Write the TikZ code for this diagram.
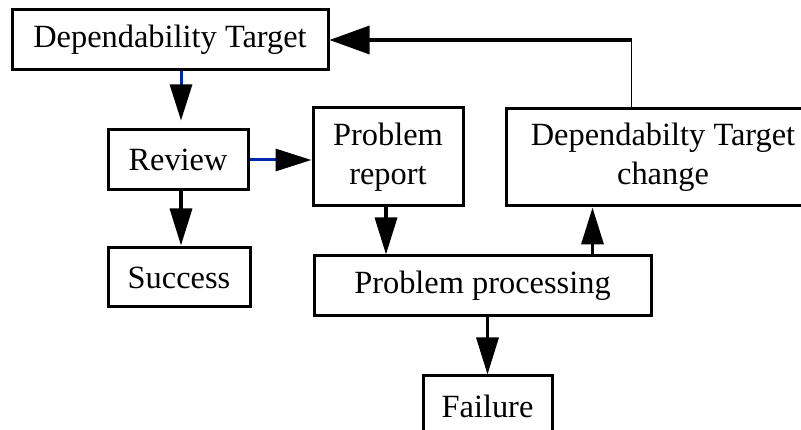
\documentclass[tikz,border=0pt]{standalone}
\usepackage{fontspec}
\setmainfont{Liberation Serif}
\usetikzlibrary{arrows.meta}
\definecolor{linkblue}{RGB}{0,40,170}
\begin{document}
\begin{tikzpicture}[x=1pt,y=-1pt,
  box/.style={draw=black, line width=3pt, inner sep=0pt, align=center,
    font=\fontsize{32.4}{38.5}\selectfont},
  conn/.style={line width=3.4pt, -{Triangle[length=37pt,width=22pt]}},
  blueconn/.style={draw=linkblue, line width=3pt,
    -{Triangle[length=36pt,width=22pt,color=black]}},
  feedline/.style={line width=1.4pt},
  feedarrow/.style={line width=3.4pt, -{Triangle[length=40pt,width=28pt]}}]
\useasboundingbox (0,0) rectangle (801,430);
\clip (0,0) rectangle (801,430);

% boxes
\node[box, minimum width=316pt, minimum height=60pt] (dt) at (170,40) {Dependability Target};
\node[box, minimum width=140pt, minimum height=60pt] (rev) at (178,160) {Review};
\node[box, minimum width=150pt, minimum height=98pt] (pr) at (388,157) {Problem\\report};
\node[box, minimum width=314pt, minimum height=97pt] (dtc) at (663,157.5) {Dependabilty Target\\change};
\node[box, minimum width=142pt, minimum height=59pt] (suc) at (179,277.5) {Success};
\node[box, minimum width=337pt, minimum height=60pt] (pp) at (482.5,286) {Problem processing};
\node[box, minimum width=129pt, minimum height=60pt] (fail) at (487.5,406) {Failure};

% helper points for the vertical connectors
\coordinate (a1) at ([xshift=3pt]rev.north);
\coordinate (a2) at ([xshift=3pt]rev.south);
\coordinate (a3) at ([xshift=-2pt]pr.south);
\coordinate (a4) at ([xshift=-60pt]pp.north east);
\coordinate (fb) at ([xshift=127pt]dtc.north west);
\coordinate (fbc) at (fb |- dt.east);

% connectors
\draw[blueconn, shorten >=8pt] (a1 |- dt.south) -- (a1);
\draw[blueconn] (rev.east) -- (rev.east -| pr.west);
\draw[conn, shorten >=1pt] (a2) -- (a2 |- suc.north);
\draw[conn] (a3) -- (a3 |- pp.north);
\draw[conn] (a4) -- (a4 |- dtc.south);
\draw[conn] (fail.north |- pp.south) -- (fail.north);

% feedback from the target change back to the target
\draw[feedline] (fb) -- (fbc);
\draw[feedarrow] ([xshift=0.7pt]fbc) -- (dt.east);
\end{tikzpicture}
\end{document}
